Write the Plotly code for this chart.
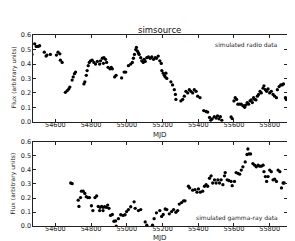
import plotly.graph_objects as go

# Top panel: simulated radio data
radio_mjd = [54469, 54484, 54493, 54503, 54512, 54538, 54548, 54553, 54572, 54606, 54615, 54625,
             54628, 54638, 54656, 54666, 54675, 54681, 54694, 54700, 54707, 54713, 54760, 54765,
             54773, 54778, 54784, 54790, 54797, 54806, 54816, 54825, 54835, 54853, 54863, 54872,
             54881, 54887, 54848, 54869, 54895, 54906, 54913, 54919, 54932, 54940, 54971, 54985,
             54994, 55009, 55022, 55031, 55037, 55043, 55050, 55054, 55060, 55065, 55069, 55078,
             55084, 55092, 55097, 55103, 55112, 55121, 55131, 55140, 55150, 55159, 55166, 55176,
             55185, 55193, 55196, 55204, 55210, 55215, 55219, 55224, 55247, 55256, 55266, 55272,
             55275, 55303, 55313, 55322, 55331, 55341, 55350, 55359, 55369, 55378, 55388, 55397,
             55410, 55431, 55444, 55453, 55463, 55470, 55478, 55490, 55500, 55508, 55516, 55524,
             55532, 55584, 55590, 55600, 55607, 55615, 55622, 55632, 55641, 55650, 55660, 55665,
             55674, 55682, 55690, 55697, 55703, 55710, 55716, 55723, 55731, 55738, 55746, 55753,
             55763, 55768, 55776, 55783, 55791, 55800, 55809, 55819, 55828, 55838, 55843, 55853,
             55862, 55870, 55877, 55888, 55893]
radio_flux = [0.467, 0.54, 0.522, 0.522, 0.527, 0.482, 0.455, 0.462, 0.467, 0.462, 0.482, 0.471,
              0.427, 0.411, 0.204, 0.215, 0.227, 0.24, 0.289, 0.311, 0.333, 0.344, 0.262, 0.277,
              0.322, 0.355, 0.389, 0.411, 0.422, 0.427, 0.411, 0.4, 0.418, 0.422, 0.44, 0.444,
              0.433, 0.411, 0.4, 0.405, 0.377, 0.367, 0.377, 0.367, 0.311, 0.322, 0.304, 0.344,
              0.344, 0.389, 0.4, 0.411, 0.44, 0.467, 0.5, 0.515, 0.489, 0.477, 0.467, 0.444,
              0.422, 0.411, 0.433, 0.418, 0.444, 0.449, 0.44, 0.449, 0.433, 0.444, 0.44, 0.455,
              0.422, 0.404, 0.355, 0.337, 0.322, 0.311, 0.337, 0.3, 0.277, 0.255, 0.222, 0.189,
              0.155, 0.144, 0.155, 0.177, 0.211, 0.2, 0.222, 0.211, 0.2, 0.222, 0.211, 0.177,
              0.167, 0.077, 0.071, 0.067, 0.03, 0.01, 0.02, 0.035, 0.025, 0.04, 0.02, 0.035,
              0.01, 0.033, 0.022, 0.144, 0.167, 0.155, 0.122, 0.122, 0.122, 0.111, 0.1, 0.115,
              0.133, 0.122, 0.144, 0.151, 0.133, 0.167, 0.155, 0.151, 0.177, 0.189, 0.211, 0.2,
              0.233, 0.249, 0.222, 0.211, 0.227, 0.2, 0.211, 0.189, 0.177, 0.167, 0.222, 0.244,
              0.255, 0.255, 0.262, 0.167, 0.155]

# Bottom panel: simulated gamma-ray data
gamma_mjd = [54686, 54694, 54728, 54732, 54741, 54746, 54756, 54765, 54773, 54782, 54791, 54802,
             54810, 54822, 54831, 54840, 54850, 54859, 54867, 54876, 54885, 54893, 54900, 54848,
             54867, 54909, 54919, 54928, 54937, 54941, 54953, 54966, 54979, 54990, 54999, 55009,
             55022, 55041, 55047, 55065, 55078, 55103, 55112, 55144, 55153, 55166, 55185, 55195,
             55204, 55215, 55224, 55238, 55251, 55262, 55275, 55285, 55294, 55307, 55318, 55326,
             55345, 55352, 55369, 55382, 55393, 55401, 55412, 55425, 55435, 55444, 55453, 55463,
             55472, 55481, 55491, 55500, 55510, 55519, 55528, 55538, 55547, 55551, 55562, 55571,
             55584, 55590, 55603, 55612, 55622, 55632, 55641, 55650, 55663, 55673, 55678, 55684,
             55693, 55706, 55716, 55725, 55735, 55744, 55753, 55763, 55768, 55776, 55783, 55791,
             55800, 55809, 55819, 55828, 55838, 55847, 55857, 55866, 55875, 55881]
gamma_flux = [0.307, 0.302, 0.185, 0.14, 0.203, 0.249, 0.249, 0.233, 0.21, 0.203, 0.203, 0.145,
              0.111, 0.203, 0.215, 0.14, 0.134, 0.14, 0.134, 0.138, 0.134, 0.15, 0.127, 0.111,
              0.111, 0.076, 0.083, 0.035, 0.037, 0.0, 0.053, 0.081, 0.076, 0.081, 0.104, 0.118,
              0.138, 0.173, 0.127, 0.111, 0.118, 0.03, 0.007, 0.007, 0.053, 0.095, 0.111, 0.069,
              0.083, 0.122, 0.118, 0.088, 0.104, 0.118, 0.099, 0.111, 0.157, 0.168, 0.18, 0.18,
              0.284, 0.272, 0.256, 0.26, 0.242, 0.265, 0.242, 0.249, 0.284, 0.295, 0.284, 0.341,
              0.358, 0.307, 0.33, 0.307, 0.33, 0.307, 0.33, 0.295, 0.358, 0.381, 0.33, 0.325,
              0.318, 0.288, 0.318, 0.381, 0.376, 0.37, 0.399, 0.422, 0.457, 0.51, 0.549, 0.514,
              0.514, 0.445, 0.434, 0.422, 0.434, 0.427, 0.427, 0.434, 0.388, 0.353, 0.318, 0.353,
              0.399, 0.388, 0.33, 0.334, 0.318, 0.399, 0.388, 0.272, 0.307, 0.307]

x_ticks = [54600, 54800, 55000, 55200, 55400, 55600, 55800]
x_tick_labels = ["54600", "54800", "55000", "55200", "55400", "55600", "55800"]
y_ticks = [0.0, 0.1, 0.2, 0.3, 0.4, 0.5, 0.6]
y_tick_labels = ["0.0", "0.1", "0.2", "0.3", "0.4", "0.5", "0.6"]

W, H = 295, 241
FONT = "DejaVu Sans"
TXT = "#222"

fig = go.Figure()
fig.add_trace(go.Scatter(x=radio_mjd, y=radio_flux, mode="markers",
                         marker=dict(color="black", size=3.3, line=dict(width=0)),
                         xaxis="x", yaxis="y", showlegend=False))
fig.add_trace(go.Scatter(x=gamma_mjd, y=gamma_flux, mode="markers",
                         marker=dict(color="black", size=3.3, line=dict(width=0)),
                         xaxis="x2", yaxis="y2", showlegend=False))

xl, xr = 24.5 / W, 279 / W
top_dom = [(H - 113.5) / H, (H - 24) / H]
bot_dom = [(H - 221.5) / H, (H - 134.3) / H]

axis_common = dict(showgrid=False, zeroline=False, showline=True, linecolor="#222",
                   linewidth=1, mirror="allticks", ticks="inside", ticklen=3,
                   tickcolor="#222", tickfont=dict(family=FONT, size=6.5, color=TXT))

xr_range = [54472, 55897]
fig.update_layout(
    width=W, height=H, margin=dict(l=0, r=0, t=0, b=0),
    paper_bgcolor="white", plot_bgcolor="white",
    xaxis=dict(domain=[xl, xr], range=xr_range, tickvals=x_ticks, ticktext=x_tick_labels,
               anchor="y", ticklabelstandoff=-4, **axis_common),
    yaxis=dict(domain=top_dom, range=[0, 0.6], tickvals=y_ticks, ticktext=y_tick_labels,
               anchor="x", ticklabelstandoff=-1, **axis_common),
    xaxis2=dict(domain=[xl, xr], range=xr_range, tickvals=x_ticks, ticktext=x_tick_labels,
                anchor="y2", ticklabelstandoff=-4, **axis_common),
    yaxis2=dict(domain=bot_dom, range=[0, 0.6], tickvals=y_ticks, ticktext=y_tick_labels,
                anchor="x2", ticklabelstandoff=-1, **axis_common),
)

def note(text, x, y, size, xanchor="center", angle=0, color=TXT):
    fig.add_annotation(text=text, x=x, y=y, xref="paper", yref="paper", showarrow=False,
                       xanchor=xanchor, yanchor="middle", textangle=angle, borderpad=0,
                       font=dict(family=FONT, size=size, color=color))

xc = (xl + xr) / 2
note("simsource", xc, (H - 19) / H, 8.5, color="#111")
note("simulated radio data", 271 / W, (H - 33.5) / H, 6, xanchor="right")
note("simulated gamma-ray data", 271 / W, (H - 213.5) / H, 6, xanchor="right")
note("MJD", xc, (H - 127.5) / H, 7)
note("MJD", xc, (H - 233.5) / H, 7)
note("Flux (arbitrary units)", 5.5 / W, (H - 68) / H, 6, angle=-90)
note("Flux (arbitrary units)", 5.5 / W, (H - 178) / H, 6, angle=-90)

fig.write_html("out.html")
